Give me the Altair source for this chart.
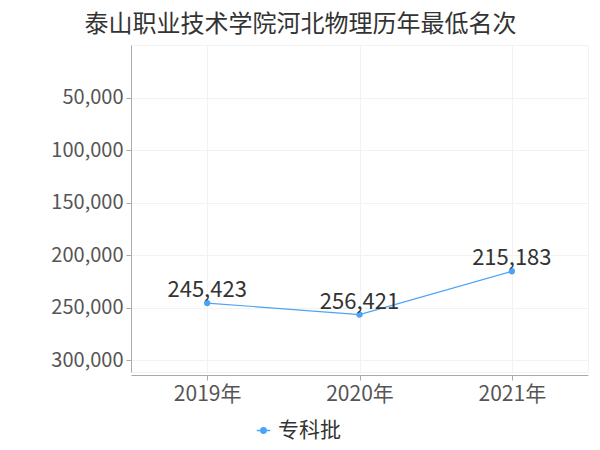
import altair as alt
import pandas as pd

years = ["2019年", "2020年", "2021年"]
ranks = [245423, 256421, 215183]
series = ["专科批", "专科批", "专科批"]
y_ticks = [50000, 100000, 150000, 200000, 250000, 300000]

df = pd.DataFrame({"year": years, "rank": ranks, "series": series})
FONT = "Noto Sans CJK SC"
COLOR = "#4aa3f7"

base = alt.Chart(df).encode(
    x=alt.X("year:N", sort=years, title=None,
            scale=alt.Scale(type="point", padding=0.5),
            axis=alt.Axis(labelAngle=0, labelFontSize=21, labelColor="#555555",
                          labelFont=FONT, domainColor="#aaaaaa", tickColor="#aaaaaa",
                          gridColor="#f2f2f2", grid=True, labelPadding=3, offset=3)),
    y=alt.Y("rank:Q", title=None,
            scale=alt.Scale(domain=[0, 311000], reverse=True, nice=False, zero=False),
            axis=alt.Axis(values=y_ticks, labelExpr="format(datum.value, ',')",
                          labelFontSize=20, labelColor="#555555",
                          labelFont=FONT, domainColor="#aaaaaa", tickColor="#aaaaaa",
                          gridColor="#f2f2f2", labelPadding=3)),
)

line = base.mark_line(color=COLOR, strokeWidth=1.2, point=alt.OverlayMarkDef(color=COLOR, size=40, filled=True, opacity=1)).encode(
    color=alt.Color("series:N", scale=alt.Scale(range=[COLOR]),
                    legend=alt.Legend(title=None, orient="none", legendX=122, legendY=375,
                                      labelFontSize=21, labelFont=FONT, labelColor="#333333",
                                      symbolType="M-1,0L-0.4,0M0.4,0L1,0M-0.4,0A0.4,0.4 0 1,1 0.4,0A0.4,0.4 0 1,1 -0.4,0Z",
                                      symbolSize=180, symbolStrokeWidth=1.5,
                                      symbolStrokeColor=COLOR, symbolFillColor=COLOR))
)

labels = base.mark_text(fontSize=22, font=FONT, color="#333333", baseline="bottom", dy=-1).encode(
    text=alt.Text("rank:Q", format=",")
)

chart = (line + labels).properties(
    width=457, height=327,
    title=alt.TitleParams("泰山职业技术学院河北物理历年最低名次", fontSize=24, font=FONT,
                          color="#333333", fontWeight="normal", anchor="middle", dx=-59, offset=8),
    autosize=alt.AutoSizeParams(type="none"),
    padding={"left": 123, "top": 37, "right": 4, "bottom": 70},
).configure_view(stroke="#f2f2f2")

chart.save("out.html", embed_options={"renderer": "svg", "actions": False})
